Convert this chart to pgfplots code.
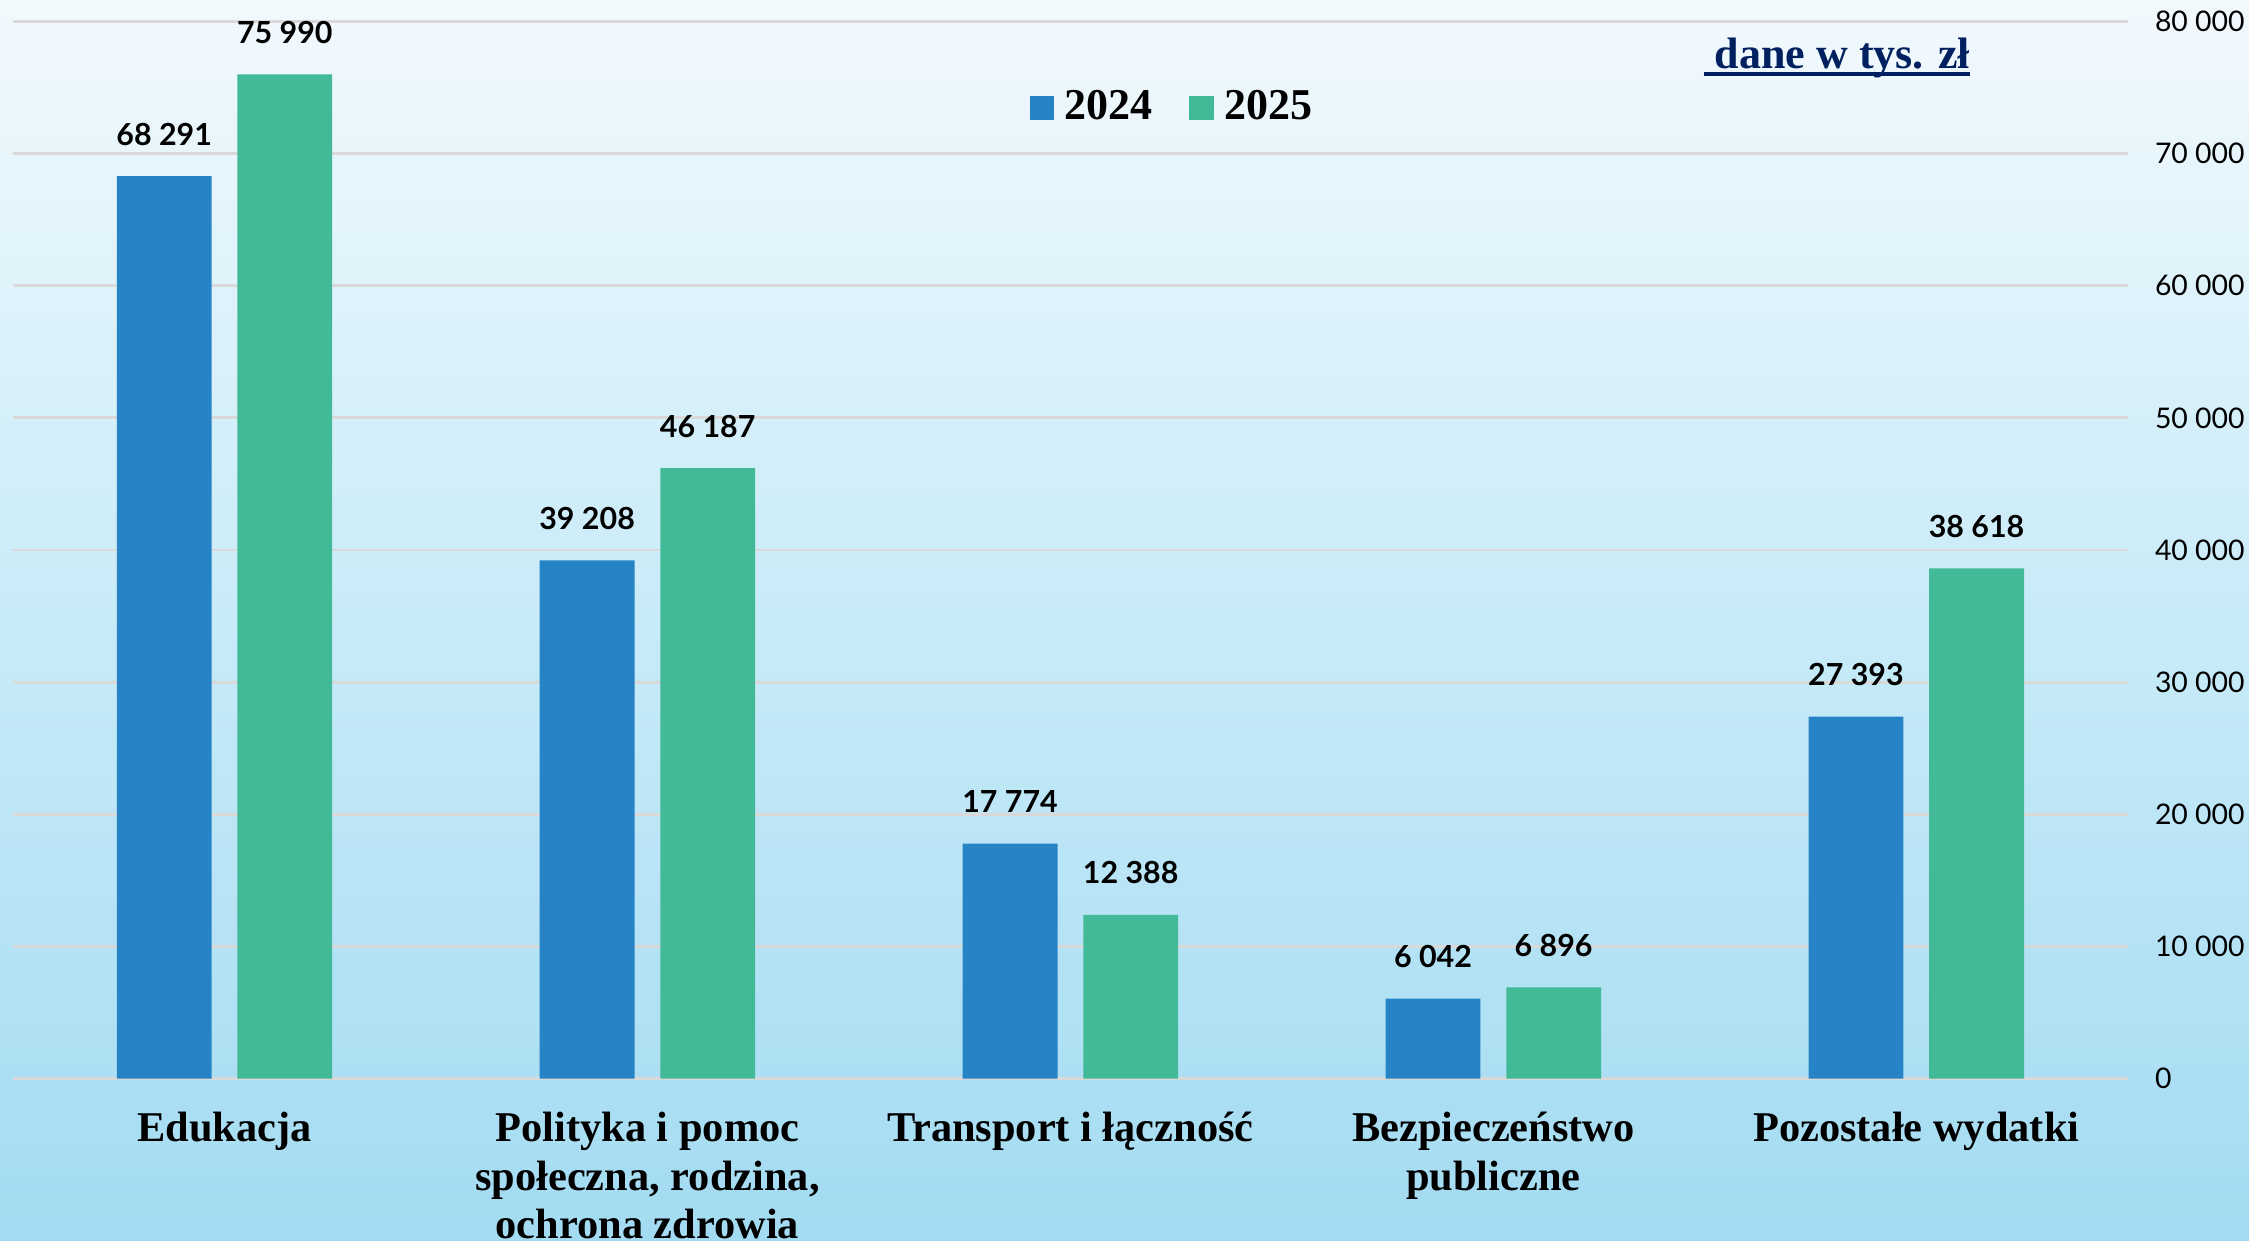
\documentclass[border=0pt]{standalone}
\usepackage{fontspec}
\setmainfont{Liberation Serif}
\newfontfamily\lblfont{Lato}
\usepackage{pgfplots}
\pgfplotsset{compat=1.18}
\definecolor{bblue}{HTML}{2683C6}
\definecolor{bgreen}{HTML}{42BA97}
\definecolor{navy}{HTML}{002060}
\definecolor{gridc}{HTML}{D9D9D9}
\definecolor{bgtop}{HTML}{F2F9FD}
\definecolor{bgmid}{HTML}{C8EBF8}
\definecolor{bgbot}{HTML}{A3DBF2}
\newcommand\ul[1]{\setbox0\hbox{#1}\rlap{\rule[-1.7pt]{\wd0}{0.9pt}}\box0}
\begin{document}
\begin{tikzpicture}
\useasboundingbox (0,0) rectangle (562.25pt,310.25pt);
\shade[top color=bgtop, bottom color=bgbot, middle color=bgmid] (0,0) rectangle (562.25pt,310.25pt);
\begin{axis}[
  at={(3.25pt,40.6pt)}, anchor=south west,
  scale only axis, width=528.7pt, height=264.3pt,
  ybar=6.45pt, bar width=23.7pt,
  xmin=-0.5, xmax=4.5, ymin=0, ymax=80000,
  xtick={0,1,2,3,4},
  xticklabels={Edukacja, {Polityka i pomoc\\społeczna, rodzina,\\ochrona zdrowia}, Transport i łączność, {Bezpieczeństwo\\publiczne}, Pozostałe wydatki},
  ytick={0,10000,20000,30000,40000,50000,60000,70000,80000},
  yticklabel pos=right,
  scaled y ticks=false,
  axis line style={draw=none},
  major tick length=0pt,
  ymajorgrids, grid style={gridc, line width=0.7pt},
  yticklabel style={/pgf/number format/.cd, fixed, precision=0, 1000 sep={\ }, assume math mode=true, /tikz/.cd,
    font=\lblfont\fontsize{7.1}{9}\selectfont, anchor=west, inner sep=0pt, xshift=6.6pt},
  xticklabel style={font=\bfseries\fontsize{10.6}{12.2}\selectfont, align=center, anchor=north, yshift=-4.8pt},
  nodes near coords={\pgfmathprintnumber[fixed,precision=0,1000 sep={\ },assume math mode=true]{\pgfplotspointmeta}},
  nodes near coords style={font=\lblfont\bfseries\fontsize{7.6}{9}\selectfont, anchor=south, inner sep=0pt, yshift=7.5pt, text=black},
  legend style={at={(rel axis cs:0.55,0.918)}, anchor=center, draw=none, fill=none, legend columns=2,
    font=\bfseries\fontsize{11}{13}\selectfont, nodes={inner sep=2.6pt}, /tikz/every even column/.append style={column sep=6.5pt}},
]
\addplot[fill=bblue, draw=none, legend image code/.code={\fill[bblue] (0pt,-3.1pt) rectangle (6.2pt,3.1pt);}]
  coordinates {(0,68291) (1,39208) (2,17774) (3,6042) (4,27393)};
\addplot[fill=bgreen, draw=none, legend image code/.code={\fill[bgreen] (0pt,-3.1pt) rectangle (6.2pt,3.1pt);}]
  coordinates {(0,75990) (1,46187) (2,12388) (3,6896) (4,38618)};
\legend{2024,2025}
\node[font=\bfseries\fontsize{11}{13}\selectfont, text=navy] at (rel axis cs:0.8625,0.965) {\ul{\ dane w tys. zł}};
\end{axis}
\end{tikzpicture}
\end{document}
